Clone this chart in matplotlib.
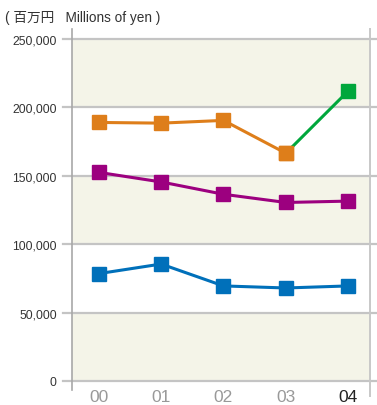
import matplotlib
matplotlib.use('Agg')
import matplotlib.pyplot as plt
import matplotlib.transforms as mtransforms

# data
years = ['00', '01', '02', '03', '04']
orange_vals = [189000, 188500, 190500, 166500]
green_vals = [166500, 212000]
purple_vals = [152500, 145500, 136500, 130500, 131500]
blue_vals = [78500, 85500, 69500, 68000, 69500]
y_ticks = [0, 50000, 100000, 150000, 200000, 250000]

plt.rcParams['font.family'] = ['Liberation Sans', 'Noto Sans CJK JP', 'DejaVu Sans']
narrow = ['Liberation Sans Narrow', 'Liberation Sans', 'DejaVu Sans']

fig = plt.figure(figsize=(3.77, 4.06), dpi=100)
ax = fig.add_axes([72 / 377, 24 / 406, 298 / 377, 342 / 406])
ax.set_facecolor('white')

x = list(range(len(years)))

# alternating background bands
for i in range(len(y_ticks) - 1):
    if i % 2 == 0:
        ax.axhspan(y_ticks[i], y_ticks[i + 1], facecolor='#f4f4e8', zorder=0.5, lw=0)

# grid lines running a little past the frame
trans = mtransforms.blended_transform_factory(ax.transAxes, ax.transData)
for t in y_ticks:
    ax.plot([-0.03, 1.025], [t, t], transform=trans, color='#c4c4c4',
            lw=1.6, clip_on=False, zorder=1)
vtrans = mtransforms.blended_transform_factory(ax.transAxes, ax.transAxes)
ax.plot([0, 0], [-0.025, 1.03], transform=vtrans, color='#a8a8a8', lw=1.2,
        clip_on=False, zorder=2)
ax.plot([1, 1], [-0.045, 1.03], transform=vtrans, color='#c8c8c8', lw=1.4,
        clip_on=False, zorder=2)

ms = 10
lw = 2.2
ax.plot(x[:4], orange_vals, color='#de7e1a', lw=lw, marker='s', ms=ms, zorder=3)
ax.plot(x[3:], green_vals, color='#00a73c', lw=lw, zorder=3)
ax.plot(x[4:], green_vals[1:], color='#00a73c', lw=0, marker='s', ms=ms, zorder=4)
ax.plot(x[3:4], orange_vals[3:], color='#de7e1a', lw=0, marker='s', ms=ms, zorder=4)
ax.plot(x, purple_vals, color='#9c007f', lw=lw, marker='s', ms=ms, zorder=3)
ax.plot(x, blue_vals, color='#0070ba', lw=lw, marker='s', ms=ms, zorder=3)

ax.set_xlim(-0.43, 4.35)
ax.set_ylim(0, 250000)
ax.set_yticks(y_ticks)
ax.set_yticklabels([f'{t:,}' for t in y_ticks], fontsize=8.8, color='#333333')
ax.set_xticks(x)
ax.set_xticklabels(years, fontsize=12.5, family=narrow)
for i, lab in enumerate(ax.get_xticklabels()):
    lab.set_color('#222222' if i == len(years) - 1 else '#999999')
ax.tick_params(axis='y', length=0, pad=11)
ax.tick_params(axis='x', length=0, pad=6)
for s in ax.spines.values():
    s.set_visible(False)

fig.text(5 / 377, 1 - 18 / 406, '( 百万円   Millions of yen )', fontsize=9.8,
         color='#333333', va='center', ha='left')

fig.savefig('out.png', dpi=100)
